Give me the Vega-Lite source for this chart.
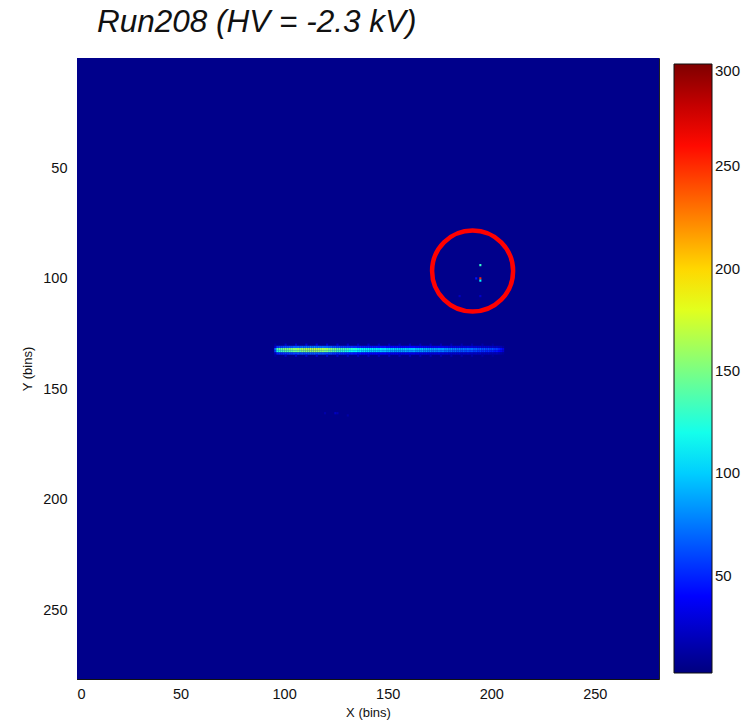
{
  "$schema": "https://vega.github.io/schema/vega-lite/v6.json",
  "width": 582,
  "height": 621,
  "autosize": {"type": "none"},
  "padding": {"left": 77, "top": 58, "right": 88, "bottom": 47},
  "background": "white",
  "title": {"text": "Run208 (HV = -2.3 kV)", "anchor": "start", "frame": "group", "dx": 20, "offset": -5, "baseline": "alphabetic", "font": "Liberation Sans", "fontSize": 31.5, "fontStyle": "italic", "fontWeight": "normal", "color": "#111"},
  "config": {
    "view": {"stroke": "#222", "strokeWidth": 1},
    "axis": {"labelFont": "Liberation Sans", "labelFontSize": 14.5, "labelColor": "#111", "titleFont": "Liberation Sans", "titleFontSize": 13, "titleFontWeight": "normal", "titleColor": "#111", "ticks": true, "tickSize": -5, "tickColor": "#111", "grid": false, "domainColor": "#111"},
    "axisX": {"labelPadding": 13, "titlePadding": 6},
    "axisY": {"labelPadding": 15, "titlePadding": 8}
  },
  "datasets": {
    "bg": [{"x0": 0, "x1": 281, "y0": 0, "y1": 281, "v": 6}],
    "cells": [
      {"y": 129, "x": [95,100,105,110,115,120,125,130,135,140,145,150,155,160,165,170,175,180,185,190,195,200],
       "v": [12,24,26,28,30,28,26,24,22,22,20,20,19,19,18,18,17,17,16,15,14,12]},
      {"y": 130, "x": [95,96,97,98,99,100,101,102,103,104,105,106,107,108,109,110,111,112,113,114,115,116,117,118,119,120,121,122,123,124,125,126,127,128,129,130,131,132,133,134,135,136,137,138,139,140,141,142,143,144,145,146,147,148,149,150,151,152,153,154,155,156,157,158,159,160,161,162,163,164,165,166,167,168,169,170,171,172,173,174,175,176,177,178,179,180,181,182,183,184,185,186,187,188,189,190,191,192,193,194,195,196,197,198,199,200,201,202,203,204,205],
       "v": [25,55,60,58,62,64,62,66,64,68,66,70,66,72,68,74,70,76,72,78,72,74,70,72,68,70,66,68,62,64,60,62,56,58,54,56,52,54,50,52,48,50,46,48,46,48,44,46,44,46,42,44,42,44,40,42,40,42,40,42,38,40,38,40,38,40,38,40,36,38,36,38,36,38,34,36,34,36,34,36,32,34,32,34,30,32,30,32,30,32,28,30,28,30,26,28,26,28,26,28,24,26,24,26,22,24,20,22,18,16,12]},
      {"y": 131, "x": [95,96,97,98,99,100,101,102,103,104,105,106,107,108,109,110,111,112,113,114,115,116,117,118,119,120,121,122,123,124,125,126,127,128,129,130,131,132,133,134,135,136,137,138,139,140,141,142,143,144,145,146,147,148,149,150,151,152,153,154,155,156,157,158,159,160,161,162,163,164,165,166,167,168,169,170,171,172,173,174,175,176,177,178,179,180,181,182,183,184,185,186,187,188,189,190,191,192,193,194,195,196,197,198,199,200,201,202,203,204,205],
       "v": [70,132,145,140,148,152,146,156,150,158,152,160,154,164,156,166,160,170,162,172,164,168,160,166,156,160,150,156,146,150,140,144,134,138,130,134,126,130,122,126,118,122,114,118,112,116,108,112,106,110,104,108,102,106,100,104,100,104,98,102,96,100,98,102,94,98,96,100,92,96,94,98,90,94,88,92,86,90,84,88,82,86,80,84,78,82,76,80,74,78,72,76,70,74,68,72,66,70,64,68,62,66,60,64,58,62,54,56,48,42,32]},
      {"y": 132, "x": [95,96,97,98,99,100,101,102,103,104,105,106,107,108,109,110,111,112,113,114,115,116,117,118,119,120,121,122,123,124,125,126,127,128,129,130,131,132,133,134,135,136,137,138,139,140,141,142,143,144,145,146,147,148,149,150,151,152,153,154,155,156,157,158,159,160,161,162,163,164,165,166,167,168,169,170,171,172,173,174,175,176,177,178,179,180,181,182,183,184,185,186,187,188,189,190,191,192,193,194,195,196,197,198,199,200,201,202,203,204,205],
       "v": [60,120,128,132,134,140,136,142,140,146,142,150,144,152,148,154,150,158,152,160,154,158,150,154,146,150,140,144,136,140,130,132,124,128,120,124,114,118,110,116,106,112,104,108,102,106,98,102,96,100,94,98,92,96,90,94,88,92,86,90,86,90,86,92,84,88,84,90,82,86,82,88,80,84,78,82,76,80,74,78,72,76,70,74,68,72,66,70,64,68,62,66,60,64,58,62,56,60,54,58,52,56,50,54,48,50,44,46,38,34,26]},
      {"y": 133, "x": [95,96,97,98,99,100,101,102,103,104,105,106,107,108,109,110,111,112,113,114,115,116,117,118,119,120,121,122,123,124,125,126,127,128,129,130,131,132,133,134,135,136,137,138,139,140,141,142,143,144,145,146,147,148,149,150,151,152,153,154,155,156,157,158,159,160,161,162,163,164,165,166,167,168,169,170,171,172,173,174,175,176,177,178,179,180,181,182,183,184,185,186,187,188,189,190,191,192,193,194,195,196,197,198,199,200,201,202,203,204,205],
       "v": [22,48,52,50,54,56,54,58,56,60,58,62,58,64,60,66,62,66,64,68,64,66,62,64,60,62,58,60,54,56,52,54,50,52,48,50,46,48,44,46,42,44,40,42,40,42,38,40,38,40,36,38,36,38,34,36,34,36,34,36,32,34,32,34,32,34,32,34,30,32,30,32,30,32,28,30,28,30,28,30,26,28,26,28,24,26,24,26,24,26,22,24,22,24,20,22,20,22,20,22,18,20,18,20,16,18,16,18,14,12,10]},
      {"y": 134, "x": [95,100,105,110,115,120,125,130,135,140,145,150,155,160,165,170,175,180,185,190,195,200],
       "v": [11,22,24,26,27,26,24,22,21,20,19,19,18,18,17,17,16,16,15,14,13,11]},
      {"y": 93, "x": [194], "v": [130]},
      {"y": 99, "x": [192, 194], "v": [45, 250]},
      {"y": 100, "x": [194], "v": [115]},
      {"y": 107, "x": [184, 194], "v": [22, 25]},
      {"y": 160, "x": [119, 124, 125], "v": [15, 22, 18]},
      {"y": 161, "x": [130], "v": [14]}
    ],
    "ring": [{"cx": 191, "cy": 96.4}]
  },
  "layer": [
    {
      "data": {"name": "bg"},
      "mark": {"type": "rect", "strokeWidth": 0},
      "encoding": {
        "x": {"field": "x0", "type": "quantitative", "scale": {"domain": [0, 281], "nice": false, "zero": false}, "axis": {"values": [0, 50, 100, 150, 200, 250], "title": "X (bins)"}},
        "x2": {"field": "x1"},
        "y": {"field": "y0", "type": "quantitative", "scale": {"domain": [0, 281], "nice": false, "zero": false, "reverse": true}, "axis": {"values": [50, 100, 150, 200, 250], "title": "Y (bins)"}},
        "y2": {"field": "y1"},
        "color": {"field": "v", "type": "quantitative",
          "scale": {"type": "linear", "domain": [2.5, 39.7, 76.9, 114.1, 151.3, 188.4, 225.6, 262.8, 300], "range": ["#00007f", "#0000ff", "#007fff", "#00ffff", "#7fff7f", "#ffff00", "#ff7f00", "#ff0000", "#7f0000"], "interpolate": "rgb", "clamp": true},
          "legend": {"orient": "none", "legendX": 597, "legendY": 6, "direction": "vertical", "gradientLength": 609, "gradientThickness": 38, "title": null, "values": [50, 100, 150, 200, 250, 300], "labelFont": "Liberation Sans", "labelFontSize": 15, "labelColor": "#111", "labelOffset": 3, "gradientStrokeColor": "#111", "gradientStrokeWidth": 1, "labelBaseline": "middle", "labelOverlap": false}}
      }
    },
    {
      "data": {"name": "cells"},
      "transform": [{"flatten": ["x", "v"]}],
      "mark": {"type": "rect", "strokeWidth": 0},
      "encoding": {
        "x": {"field": "x", "type": "quantitative", "bin": {"binned": true, "step": 1}, "scale": {"domain": [0, 281], "nice": false, "zero": false}, "axis": {"values": [0, 50, 100, 150, 200, 250], "title": "X (bins)"}},
        "y": {"field": "y", "type": "quantitative", "bin": {"binned": true, "step": 1}, "scale": {"domain": [0, 281], "nice": false, "zero": false, "reverse": true}, "axis": {"values": [50, 100, 150, 200, 250], "title": "Y (bins)"}},
        "color": {"field": "v", "type": "quantitative",
          "scale": {"type": "linear", "domain": [2.5, 39.7, 76.9, 114.1, 151.3, 188.4, 225.6, 262.8, 300], "range": ["#00007f", "#0000ff", "#007fff", "#00ffff", "#7fff7f", "#ffff00", "#ff7f00", "#ff0000", "#7f0000"], "interpolate": "rgb", "clamp": true},
          "legend": {"orient": "none", "legendX": 597, "legendY": 6, "direction": "vertical", "gradientLength": 609, "gradientThickness": 38, "title": null, "values": [50, 100, 150, 200, 250, 300], "labelFont": "Liberation Sans", "labelFontSize": 15, "labelColor": "#111", "labelOffset": 3, "gradientStrokeColor": "#111", "gradientStrokeWidth": 1, "labelBaseline": "middle", "labelOverlap": false}}
      }
    },
    {
      "data": {"name": "ring"},
      "mark": {"type": "point", "shape": "circle", "filled": false, "size": 6561, "stroke": "#ff0000", "strokeWidth": 4.5, "opacity": 1},
      "encoding": {
        "x": {"field": "cx", "type": "quantitative", "scale": {"domain": [0, 281], "nice": false, "zero": false}, "axis": {"values": [0, 50, 100, 150, 200, 250], "title": "X (bins)"}},
        "y": {"field": "cy", "type": "quantitative", "scale": {"domain": [0, 281], "nice": false, "zero": false, "reverse": true}, "axis": {"values": [50, 100, 150, 200, 250], "title": "Y (bins)"}}
      }
    }
  ]
}
